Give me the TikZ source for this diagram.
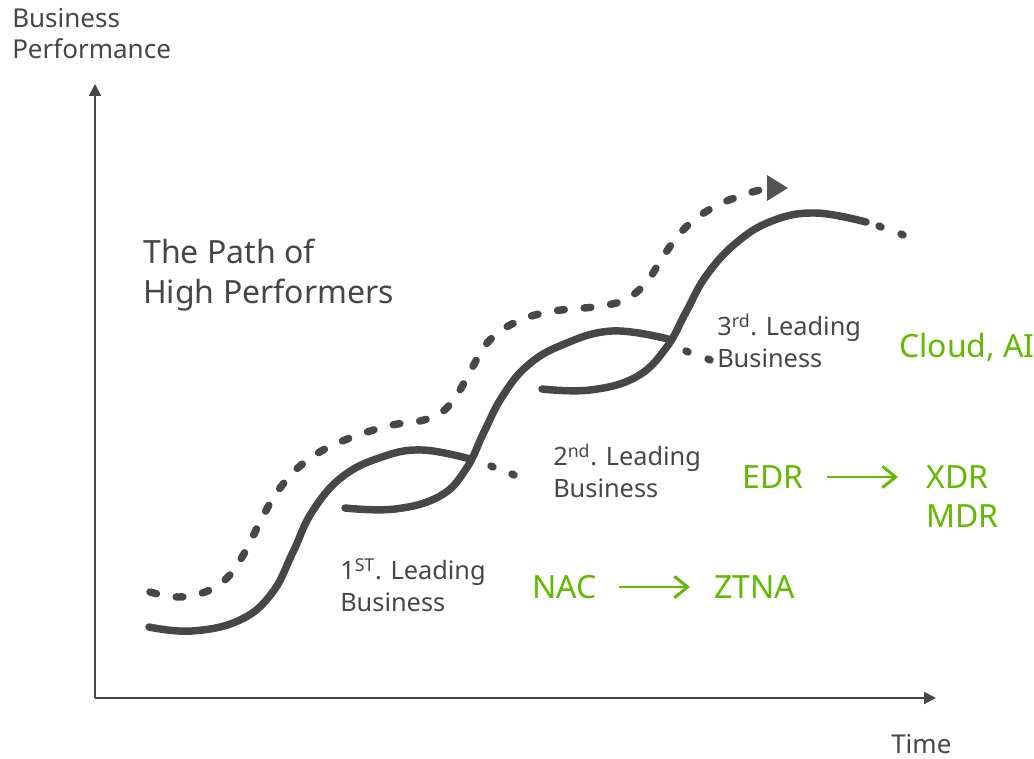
\documentclass[tikz,border=0pt]{standalone}
\usepackage{fontspec}
\setmainfont{Noto Sans}
\usetikzlibrary{arrows.meta}
\definecolor{ink}{RGB}{70,70,70}
\definecolor{curve}{RGB}{71,71,71}
\definecolor{tipgray}{RGB}{85,85,85}
\definecolor{lime}{RGB}{96,186,0}
\tikzset{
  axisline/.style={draw=ink, line width=1.5pt, -{Triangle[length=9pt,width=9pt]}},
  solidcurve/.style={draw=curve, line width=5.6pt, line cap=round},
  dashcurve/.style={draw=curve, line width=5.6pt, line cap=round, dash pattern=on 5pt off 15pt},
  dotmark/.style={draw=curve, line width=5.6pt, line cap=round},
  tiptri/.style={fill=tipgray, draw=none},
  txt/.style={inner sep=0pt, anchor=base west, text=ink, align=left},
  labeltxt/.style={txt, font=\fontsize{19}{23.5}\selectfont},
  greentxt/.style={inner sep=0pt, anchor=base west, text=lime, align=left, font=\fontsize{24}{29}\selectfont},
  greenarrow/.style={draw=lime, line width=2.2pt, -{Straight Barb[length=10pt,width=16pt,line width=2.2pt]}}
}
\begin{document}
\begin{tikzpicture}[x=0.75pt, y=-0.75pt]
\useasboundingbox (0,0) rectangle (1034,759);
% axes
\coordinate (origin) at (95,698);
\coordinate (ytip) at (95,84);
\coordinate (xtip) at (936,698);
\draw[axisline] (origin) -- (ytip);
\draw[axisline] (origin) -- (xtip);
% axis labels (anchor at baseline of last line)
\node[txt, font=\fontsize{19.5}{23.5}\selectfont] (ylab) at (12,59) {Business\\Performance};
\node[txt, font=\fontsize{19.5}{23.5}\selectfont] (xlab) at (891,753) {Time};
% title
\node[txt, font=\fontsize{24}{29.3}\selectfont] (title) at (143,303) {The Path of\\High Performers};
% dashed path
\draw[dashcurve] plot[smooth, tension=0.7] coordinates {
 (150,592) (178,597) (205,592) (227,578) (245,552) (262,518) (280,488) (305,462)
 (340,442) (388,426) (420,421) (442,412) (458,393) (472,368) (488,342) (512,324)
 (548,312) (601,306) (628,298) (648,280) (664,255) (685,228)
 (712,208) (740,196) (760,190) (770,188)};
\coordinate (tipA) at (767,175);
\coordinate (tipB) at (788,188);
\coordinate (tipC) at (767,201);
\fill[tiptri] (tipA) -- (tipB) -- (tipC) -- cycle;
% curve 1
\draw[solidcurve] plot[smooth, tension=0.7] coordinates {
 (149,627) (192,631) (240,620) (272,593) (293,552) (312,512) (342,477) (382,457) (422,450) (470,459)};
\draw[dotmark] (491,466) -- (493,467);
\draw[dotmark] (512,474) -- (514,475);
% curve 2
\draw[solidcurve] plot[smooth, tension=0.7] coordinates {
 (345,508) (395,509) (440,496) (466,469) (484,432) (502,397) (527,366) (562,345) (612,331) (668,339)};
\draw[dotmark] (686,351) -- (688,352);
\draw[dotmark] (708,359) -- (710,360);
% curve 3
\draw[solidcurve] plot[smooth, tension=0.7] coordinates {
 (542,389) (590,390) (636,377) (666,348) (686,312) (706,276) (736,243) (772,221) (815,213) (866,222)};
\draw[dotmark] (879,226) -- (881,227);
\draw[dotmark] (901,234) -- (903,235);
% labels
\node[labeltxt] (lead1) at (340,611) {1\textsuperscript{ST}. Leading\\Business};
\node[labeltxt] (lead2) at (553,497) {2\textsuperscript{nd}. Leading\\Business};
\node[labeltxt] (lead3) at (717,367) {3\textsuperscript{rd}. Leading\\Business};
% green texts
\node[greentxt] (cloud) at (899,357) {Cloud, AI};
\node[greentxt] (edr) at (742,488) {EDR};
\node[greentxt] (xdr) at (926,527) {XDR\\MDR};
\node[greentxt] (nac) at (532,598) {NAC};
\node[greentxt] (ztna) at (714,598) {ZTNA};
\coordinate (ea) at (827,477);
\coordinate (eb) at (898,477);
\coordinate (na) at (619,587);
\coordinate (nb) at (690,587);
\draw[greenarrow] (ea) -- (eb);
\draw[greenarrow] (na) -- (nb);
\end{tikzpicture}
\end{document}
